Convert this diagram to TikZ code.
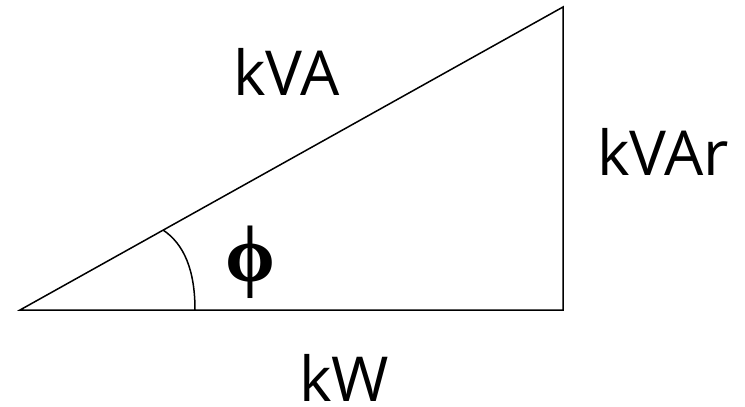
\documentclass[tikz,border=0pt]{standalone}
\usepackage{fontspec}
\setmainfont{Open Sans}
\newfontfamily\phifont{Liberation Serif}
\begin{document}
\begin{tikzpicture}[x=1pt,y=-1pt,
  lbl/.style={font=\fontsize{62}{62}\selectfont, inner sep=0pt, anchor=base west},
  edge/.style={draw=black, line width=1.5pt, line join=miter}]
\useasboundingbox (0,0) rectangle (745,407);
\coordinate (A) at (20,310);
\coordinate (B) at (563,310);
\coordinate (C) at (563,7);
\coordinate (P) at (195,310);
\coordinate (Q) at (163,230);
\draw[edge] (A) -- (B) -- (C) -- cycle;
\draw[edge] (P) .. controls (195,270) and (184,244) .. (Q);
\node[lbl] (kva) at (233,95) {kVA};
\node[lbl] (kvar) at (597,175) {kVAr};
\node[lbl] (kw) at (299,401) {kW};
\node[inner sep=0pt, anchor=base, font=\phifont\bfseries\fontsize{80}{80}\selectfont] (phi) at (250,281) {ϕ};
\end{tikzpicture}
\end{document}
